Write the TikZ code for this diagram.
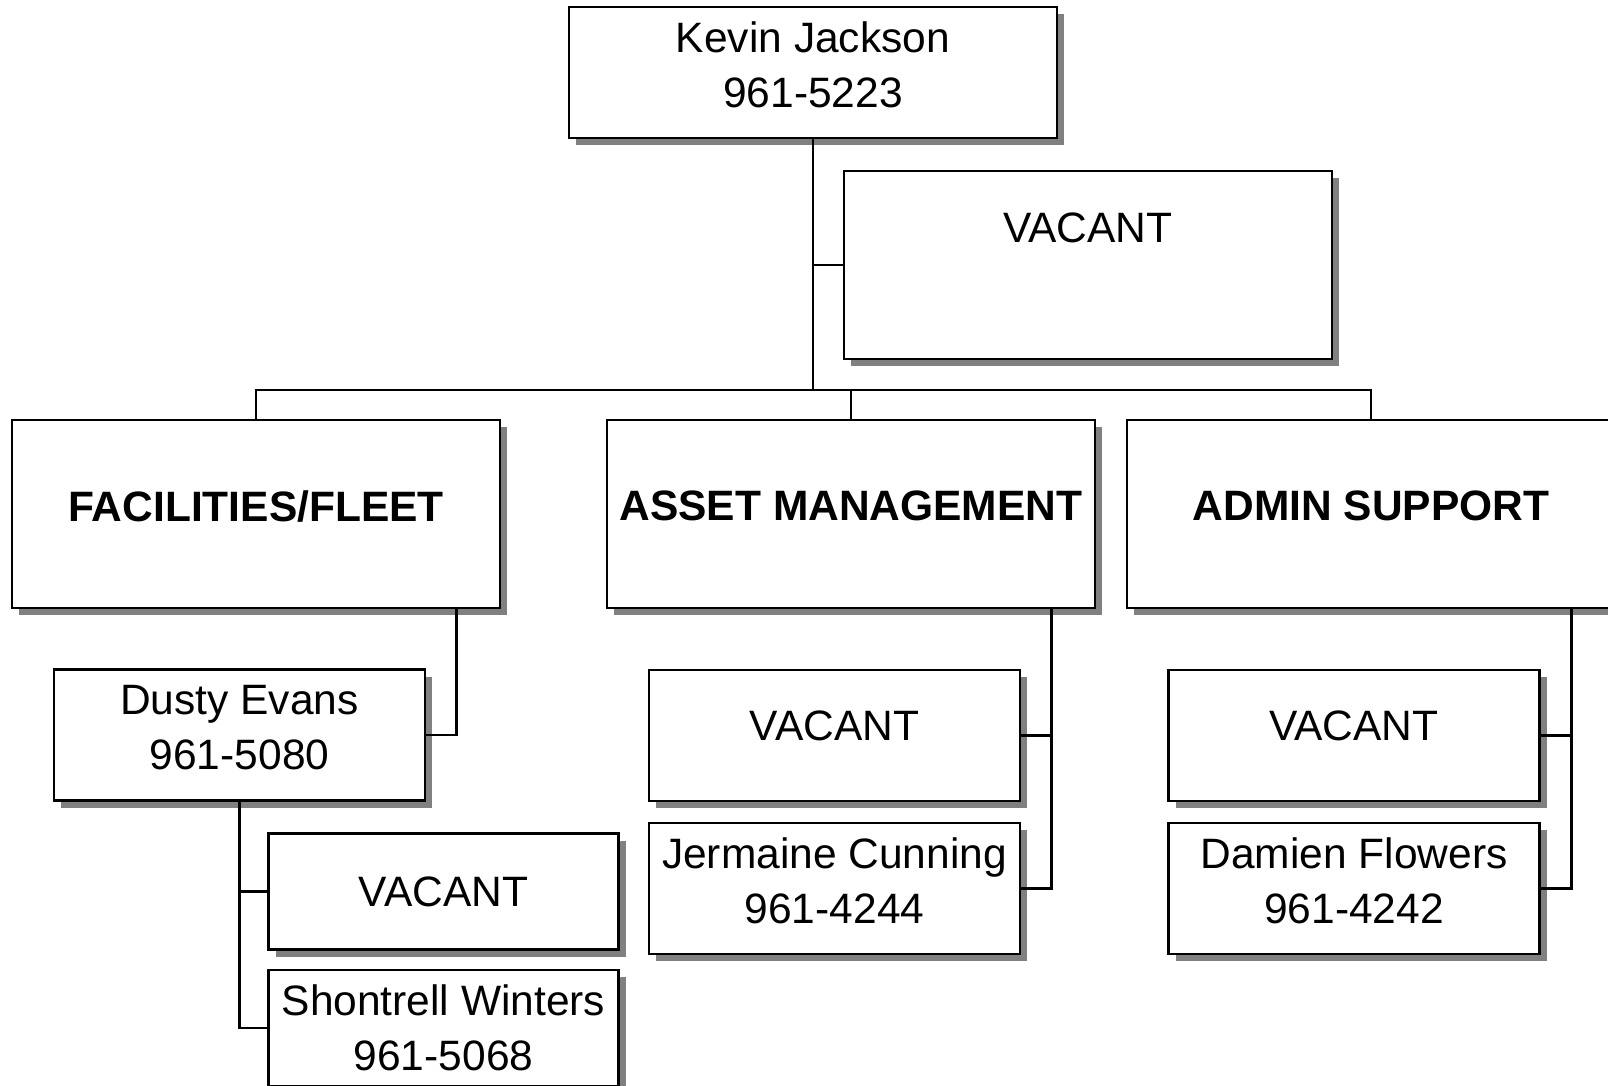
\documentclass[tikz,border=0pt]{standalone}
\usepackage{fontspec}
\setmainfont{Liberation Sans}
\usetikzlibrary{shadows}
\newcommand{\chartfont}{\fontsize{42.5}{55}\selectfont}
\tikzset{
	orgbox/.style={draw, line width=2.5pt, fill=white, inner sep=0pt, align=center,
		text depth=16pt,
		drop shadow={shadow xshift=7pt, shadow yshift=-7pt, fill=black!50, opacity=1}},
	deptbox/.style={orgbox, minimum width=488pt, minimum height=188pt, font=\chartfont\bfseries},
	staffbox/.style={orgbox, minimum width=371pt, minimum height=131pt},
	smallbox/.style={orgbox, minimum width=350pt, minimum height=116pt, text depth=0pt},
	conn/.style={line width=2.5pt}
}
\begin{document}
\begin{tikzpicture}[x=1pt, y=-1pt, font=\chartfont]
	\useasboundingbox (0,0) rectangle (1608,1085);
	%top
	\node[orgbox, minimum width=488pt, minimum height=131pt] (boss) at (813,72.5) {Kevin Jackson\\961-5223};
	\node[orgbox, minimum width=488pt, minimum height=188pt, text depth=74pt] (deputy) at (1088,265) {VACANT};
	%departments
	\node[deptbox] (facilities) at (256,514) {FACILITIES/FLEET};
	\node[deptbox] (assets) at (851,514) {ASSET MANAGEMENT};
	\node[deptbox] (admin) at (1371,514) {ADMIN SUPPORT};
	%staff
	\node[staffbox] (dustyevans) at (239.5,735) {Dusty Evans\\961-5080};
	\node[smallbox] (facvacant) at (443.5,891.7) {VACANT};
	\node[smallbox] (shontrell) at (443.5,1028) {Shontrell Winters\\961-5068};
	\node[staffbox, text depth=20pt] (assetvacant) at (834.5,735.5) {VACANT};
	\node[staffbox] (jermaine) at (834.5,888.6) {Jermaine Cunning\\961-4244};
	\node[staffbox, text depth=20pt] (adminvacant) at (1354,735.5) {VACANT};
	\node[staffbox] (damien) at (1354,888.6) {Damien Flowers\\961-4242};
	%lines
	\coordinate (bus) at (813,390);
	\draw[conn] (boss.south) -- (bus);
	\draw[conn] (boss.south |- deputy.west) -- (deputy.west);
	\draw[conn] (facilities.north) |- (bus) -| (admin.north);
	\draw[conn] (bus -| assets.north) -- (assets.north);
	\foreach \dept/\top/\low in {facilities/dustyevans/dustyevans,assets/assetvacant/jermaine,admin/adminvacant/damien}
	{
		\coordinate (\dept tap) at ([xshift=-45pt]\dept.south east);
		\draw[conn] (\dept tap) |- (\top.east);
		\draw[conn] (\dept tap) |- (\low.east);
	}
	\draw[conn] (dustyevans.south) |- (facvacant.west);
	\draw[conn] (dustyevans.south) |- (shontrell.west);
\end{tikzpicture}
\end{document}
